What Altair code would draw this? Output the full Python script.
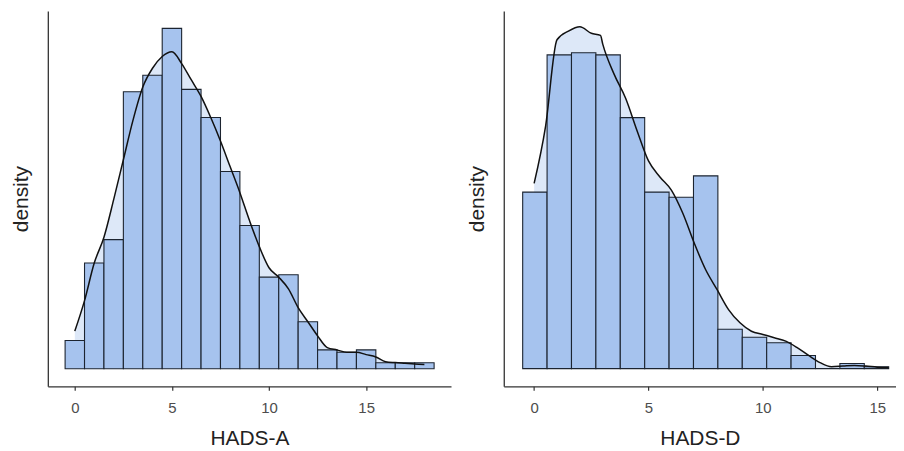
import altair as alt
import pandas as pd

# ---------------- data ----------------
# HADS-A histogram: bins of width 1 starting at -0.5
a_bin_start = -0.5
a_bin_width = 1.0
a_density = [0.012, 0.045, 0.055, 0.118, 0.125, 0.145, 0.119, 0.107, 0.084,
             0.061, 0.039, 0.040, 0.020, 0.008, 0.007, 0.008, 0.0025, 0.0025, 0.0025]
a_kde_x = [0, 0.5, 1, 1.5, 2, 2.5, 3, 3.5, 4, 4.5, 5, 5.5, 6, 6.5, 7, 7.5, 8, 8.5,
           9, 9.5, 10, 10.5, 11, 11.5, 12, 12.5, 13, 13.5, 14, 14.5, 15, 15.5,
           16, 16.5, 17, 17.5, 18]
a_kde_y = [0.016, 0.029, 0.045, 0.056, 0.072, 0.089, 0.106, 0.120, 0.128, 0.133,
           0.135, 0.130, 0.123, 0.116, 0.107, 0.097, 0.086, 0.075, 0.063, 0.052,
           0.043, 0.039, 0.034, 0.026, 0.020, 0.014, 0.009, 0.008, 0.007, 0.007,
           0.006, 0.005, 0.003, 0.0026, 0.0023, 0.002, 0.0018]

# HADS-D histogram: 15 bins over [-0.5, 15.5]
d_bin_start = -0.5
d_bin_width = 16 / 15
d_density = [0.0816, 0.145, 0.146, 0.145, 0.116, 0.0816, 0.0792, 0.0891, 0.0182,
             0.0145, 0.012, 0.0061, 0.0, 0.0024, 0.0009]
d_kde_x = [0, 0.5, 1, 1.5, 2, 2.5, 2.9, 3, 3.5, 4, 4.5, 5, 5.5, 6, 6.5, 7, 7.5, 8,
           8.5, 9, 9.5, 10, 10.5, 11, 11.5, 12, 12.5, 13, 13.5, 14, 14.5, 15, 15.5]
d_kde_y = [0.0856, 0.112, 0.152, 0.156, 0.158, 0.155, 0.154, 0.150, 0.136, 0.125,
           0.110, 0.096, 0.0886, 0.0825, 0.0718, 0.058, 0.0457, 0.0365, 0.0273,
           0.0212, 0.0173, 0.0158, 0.0143, 0.0127, 0.0097, 0.0061, 0.0028, 0.0009,
           0.0012, 0.0015, 0.0012, 0.0007, 0.0005]

x_ticks = [0, 5, 10, 15]

BAR_FILL = "#a6c3ee"
LIGHT_FILL = "#dde8f8"
EDGE = "#1c2430"
FONT = "Liberation Sans"


def hist_frame(start, width, dens):
    return pd.DataFrame({
        "x0": [start + i * width for i in range(len(dens))],
        "x1": [start + (i + 1) * width for i in range(len(dens))],
        "d": dens,
        "zero": [0.0] * len(dens),
    })


def panel(start, width, dens, kx, ky, title, xdom, ydom, w):
    hist = hist_frame(start, width, dens)
    kde = pd.DataFrame({"x": kx, "y": ky, "zero": [0.0] * len(kx)})
    xs = alt.Scale(domain=xdom, nice=False, zero=False)
    ys = alt.Scale(domain=ydom, nice=False, zero=False)
    xax = alt.Axis(values=x_ticks, title=title, grid=False)
    yax = alt.Axis(labels=False, ticks=False, title="density", grid=False)

    area = alt.Chart(kde).mark_area(color=LIGHT_FILL, interpolate="monotone").encode(
        x=alt.X("x:Q", scale=xs, axis=xax),
        y=alt.Y("y:Q", scale=ys, axis=yax),
        y2="zero:Q",
    )
    bars = alt.Chart(hist).mark_rect(fill=BAR_FILL, stroke=EDGE, strokeWidth=1.1).encode(
        x=alt.X("x0:Q", scale=xs, axis=xax),
        x2="x1:Q",
        y=alt.Y("d:Q", scale=ys, axis=yax),
        y2="zero:Q",
    )
    line = alt.Chart(kde).mark_line(color="#111111", strokeWidth=1.5,
                                    interpolate="monotone").encode(
        x=alt.X("x:Q", scale=xs, axis=xax),
        y=alt.Y("y:Q", scale=ys, axis=yax),
    )
    return alt.layer(area, bars, line).properties(width=w, height=377)


left = panel(a_bin_start, a_bin_width, a_density, a_kde_x, a_kde_y, "HADS-A",
             [-1.39, 19.37], [-0.0075, 0.1524], 405)
right = panel(d_bin_start, d_bin_width, d_density, d_kde_x, d_kde_y, "HADS-D",
              [-1.327, 15.82], [-0.00815, 0.1653], 394)

chart = alt.hconcat(left, right, spacing=16).properties(
    padding={"left": 3, "top": 2, "right": 0, "bottom": 0}
).configure_view(stroke=None).configure_axis(
    domainColor="#333333",
    domainWidth=1.3,
    tickColor="#333333",
    tickWidth=1.2,
    tickSize=4,
    labelFont=FONT,
    labelFontSize=15,
    labelColor="#4d4d4d",
    labelPadding=10,
    titleFont=FONT,
    titleFontSize=21,
    titleFontWeight="normal",
    titleColor="#222222",
).configure_axisX(titlePadding=12).configure_axisY(titlePadding=16)

chart.save("out.html", embed_options={"renderer": "svg", "actions": False})
